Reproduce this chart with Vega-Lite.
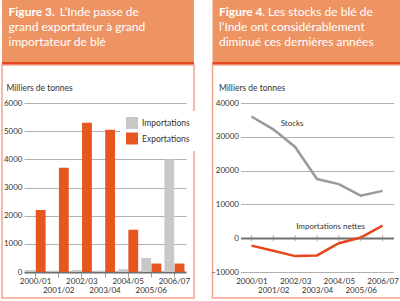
{
  "$schema": "https://vega.github.io/schema/vega-lite/v6.json",
  "padding": 0,
  "autosize": {"type": "pad"},
  "background": "white",
  "config": {"font": "Lato", "view": {"stroke": null}},
  "datasets": {
    "trade": [
      {"annee": "2000/01", "serie": "Importations", "valeur": 70},
      {"annee": "2000/01", "serie": "Exportations", "valeur": 2200},
      {"annee": "2001/02", "serie": "Importations", "valeur": 50},
      {"annee": "2001/02", "serie": "Exportations", "valeur": 3700},
      {"annee": "2002/03", "serie": "Importations", "valeur": 70},
      {"annee": "2002/03", "serie": "Exportations", "valeur": 5300},
      {"annee": "2003/04", "serie": "Importations", "valeur": 50},
      {"annee": "2003/04", "serie": "Exportations", "valeur": 5050},
      {"annee": "2004/05", "serie": "Importations", "valeur": 100},
      {"annee": "2004/05", "serie": "Exportations", "valeur": 1500},
      {"annee": "2005/06", "serie": "Importations", "valeur": 500},
      {"annee": "2005/06", "serie": "Exportations", "valeur": 300},
      {"annee": "2006/07", "serie": "Importations", "valeur": 4000},
      {"annee": "2006/07", "serie": "Exportations", "valeur": 300}
    ],
    "stocks": [
      {"annee": "2000/01", "serie": "Stocks", "valeur": 36000},
      {"annee": "2001/02", "serie": "Stocks", "valeur": 32200},
      {"annee": "2002/03", "serie": "Stocks", "valeur": 27000},
      {"annee": "2003/04", "serie": "Stocks", "valeur": 17500},
      {"annee": "2004/05", "serie": "Stocks", "valeur": 16000},
      {"annee": "2005/06", "serie": "Stocks", "valeur": 12600},
      {"annee": "2006/07", "serie": "Stocks", "valeur": 14000},
      {"annee": "2000/01", "serie": "Importations nettes", "valeur": -2200},
      {"annee": "2001/02", "serie": "Importations nettes", "valeur": -3700},
      {"annee": "2002/03", "serie": "Importations nettes", "valeur": -5300},
      {"annee": "2003/04", "serie": "Importations nettes", "valeur": -5100},
      {"annee": "2004/05", "serie": "Importations nettes", "valeur": -1500},
      {"annee": "2005/06", "serie": "Importations nettes", "valeur": 200},
      {"annee": "2006/07", "serie": "Importations nettes", "valeur": 3700}
    ]
  },
  "resolve": {"scale": {"color": "independent"}, "legend": {"color": "independent"}},
  "spacing": 13.5,
  "hconcat": [
    {
      "bounds": "flush",
      "spacing": 0,
      "vconcat": [
        {
          "width": 192,
          "height": 65,
          "view": {"fill": "#EE9463", "stroke": null},
          "data": {"values": [{}]},
          "layer": [
            {"mark": {"type": "rule", "color": "#E4471D", "strokeWidth": 3},
             "encoding": {"y": {"datum": 63.5, "type": "quantitative", "scale": {"domain": [0, 65], "reverse": true, "nice": false, "zero": false}, "axis": null}}},
            {"mark": {"type": "text", "text": "Figure 3.", "fontWeight": "bold", "align": "left", "baseline": "alphabetic", "color": "white", "fontSize": 12},
             "encoding": {"x": {"datum": 6.5, "type": "quantitative", "scale": {"domain": [0, 192], "nice": false, "zero": false}, "axis": null},
                          "y": {"datum": 15.7, "type": "quantitative", "scale": {"domain": [0, 65], "reverse": true, "nice": false, "zero": false}, "axis": null}}},
            {"mark": {"type": "text", "text": "L’Inde passe de", "align": "left", "baseline": "alphabetic", "color": "white", "fontSize": 12},
             "encoding": {"x": {"datum": 57.7, "type": "quantitative", "scale": {"domain": [0, 192], "nice": false, "zero": false}, "axis": null},
                          "y": {"datum": 15.7, "type": "quantitative", "scale": {"domain": [0, 65], "reverse": true, "nice": false, "zero": false}, "axis": null}}},
            {"mark": {"type": "text", "text": "grand exportateur à grand", "align": "left", "baseline": "alphabetic", "color": "white", "fontSize": 12},
             "encoding": {"x": {"datum": 6.5, "type": "quantitative", "scale": {"domain": [0, 192], "nice": false, "zero": false}, "axis": null},
                          "y": {"datum": 30.9, "type": "quantitative", "scale": {"domain": [0, 65], "reverse": true, "nice": false, "zero": false}, "axis": null}}},
            {"mark": {"type": "text", "text": "importateur de blé", "align": "left", "baseline": "alphabetic", "color": "white", "fontSize": 12},
             "encoding": {"x": {"datum": 6.5, "type": "quantitative", "scale": {"domain": [0, 192], "nice": false, "zero": false}, "axis": null},
                          "y": {"datum": 46.1, "type": "quantitative", "scale": {"domain": [0, 65], "reverse": true, "nice": false, "zero": false}, "axis": null}}}
          ]
        },
        {
          "width": 192,
          "height": 233,
          "view": {"fill": "white", "stroke": "#F2A48D", "strokeWidth": 1.5},
          "data": {"name": "trade"},
          "mark": {"type": "bar"},
          "encoding": {
            "x": {"field": "annee", "type": "nominal", "title": null,
                  "scale": {"range": [22, 184], "paddingInner": 0, "paddingOuter": 0},
                  "axis": {"orient": "bottom", "offset": -26, "domain": true, "domainColor": "#707070", "domainWidth": 2,
                           "ticks": true, "tickSize": 5, "tickColor": "#888888", "tickWidth": 0.8,
                           "labelPadding": 0, "labelFontSize": 8, "labelColor": "#333333", "labelAngle": 0,
                           "labelBaseline": "top", "labelLineHeight": 9, "labelOverlap": false, "labelBound": false,
                           "labelExpr": "indexof(['2001/02','2003/04','2005/06'], datum.value) >= 0 ? ['', datum.label] : datum.label"}},
            "xOffset": {"field": "serie", "type": "nominal", "sort": ["Importations", "Exportations"],
                        "scale": {"paddingInner": 0.04, "paddingOuter": 0.15}},
            "y": {"field": "valeur", "type": "quantitative",
                  "scale": {"domain": [0, 6000], "range": [207, 38], "nice": false},
                  "axis": {"orient": "left", "offset": -22, "domain": false, "ticks": false, "labelPadding": 2, "format": "d",
                           "labelFontSize": 8, "labelColor": "#333333", "values": [0, 1000, 2000, 3000, 4000, 5000, 6000],
                           "grid": true, "gridColor": "#B0B0B0", "gridWidth": 1,
                           "title": "Milliers de tonnes", "titleAngle": 0, "titleX": -18, "titleY": 22, "titleAlign": "left",
                           "titleBaseline": "middle", "titleFontSize": 8.5, "titleFontWeight": "normal", "titleColor": "#333333"}},
            "color": {"field": "serie", "type": "nominal",
                      "scale": {"domain": ["Importations", "Exportations"], "range": ["#C8C8C8", "#E8561F"]},
                      "legend": {"orient": "none", "legendX": 118, "legendY": 111, "title": null, "symbolType": "square",
                                 "symbolSize": 144, "symbolStrokeWidth": 0, "labelFontSize": 8.5, "labelColor": "#333333",
                                 "fillColor": "white", "padding": 6, "rowPadding": 3.5, "labelOffset": 4}}
          }
        }
      ]
    },
    {
      "bounds": "flush",
      "spacing": 0,
      "vconcat": [
        {
          "width": 193,
          "height": 65,
          "view": {"fill": "#EE9463", "stroke": null},
          "data": {"values": [{}]},
          "layer": [
            {"mark": {"type": "rule", "color": "#E4471D", "strokeWidth": 3},
             "encoding": {"y": {"datum": 63.5, "type": "quantitative", "scale": {"domain": [0, 65], "reverse": true, "nice": false, "zero": false}, "axis": null}}},
            {"mark": {"type": "text", "text": "Figure 4", "fontWeight": "bold", "align": "left", "baseline": "alphabetic", "color": "white", "fontSize": 12},
             "encoding": {"x": {"datum": 6.5, "type": "quantitative", "scale": {"domain": [0, 193], "nice": false, "zero": false}, "axis": null},
                          "y": {"datum": 15.7, "type": "quantitative", "scale": {"domain": [0, 65], "reverse": true, "nice": false, "zero": false}, "axis": null}}},
            {"mark": {"type": "text", "text": ". Les stocks de blé de", "align": "left", "baseline": "alphabetic", "color": "white", "fontSize": 12},
             "encoding": {"x": {"datum": 49.5, "type": "quantitative", "scale": {"domain": [0, 193], "nice": false, "zero": false}, "axis": null},
                          "y": {"datum": 15.7, "type": "quantitative", "scale": {"domain": [0, 65], "reverse": true, "nice": false, "zero": false}, "axis": null}}},
            {"mark": {"type": "text", "text": "l’Inde ont considérablement", "align": "left", "baseline": "alphabetic", "color": "white", "fontSize": 12},
             "encoding": {"x": {"datum": 6.5, "type": "quantitative", "scale": {"domain": [0, 193], "nice": false, "zero": false}, "axis": null},
                          "y": {"datum": 30.9, "type": "quantitative", "scale": {"domain": [0, 65], "reverse": true, "nice": false, "zero": false}, "axis": null}}},
            {"mark": {"type": "text", "text": "diminué ces dernières années", "align": "left", "baseline": "alphabetic", "color": "white", "fontSize": 12},
             "encoding": {"x": {"datum": 6.5, "type": "quantitative", "scale": {"domain": [0, 193], "nice": false, "zero": false}, "axis": null},
                          "y": {"datum": 46.1, "type": "quantitative", "scale": {"domain": [0, 65], "reverse": true, "nice": false, "zero": false}, "axis": null}}}
          ]
        },
        {
          "width": 190,
          "height": 233,
          "view": {"fill": "white", "stroke": "#F2A48D", "strokeWidth": 1.5},
          "data": {"name": "stocks"},
          "encoding": {
            "x": {"field": "annee", "type": "ordinal", "title": null,
                  "scale": {"type": "point", "range": [28, 181], "padding": 0.5},
                  "axis": {"orient": "bottom", "offset": -21, "domain": false, "ticks": false,
                           "labelPadding": 0, "labelFontSize": 8, "labelColor": "#333333", "labelAngle": 0,
                           "labelBaseline": "top", "labelLineHeight": 9, "labelOverlap": false, "labelBound": false,
                           "labelExpr": "indexof(['2001/02','2003/04','2005/06'], datum.value) >= 0 ? ['', datum.label] : datum.label"}}
          },
          "layer": [
            {
              "mark": {"type": "line", "strokeWidth": 2.5},
              "encoding": {
                "y": {"field": "valeur", "type": "quantitative",
                      "scale": {"domain": [-10000, 40000], "range": [207, 38], "nice": false, "zero": false},
                      "axis": {"orient": "left", "offset": -28, "domain": false, "ticks": false, "labelPadding": 2, "format": "d",
                               "labelFontSize": 8, "labelColor": "#333333",
                               "values": [-10000, -5000, 0, 5000, 10000, 15000, 20000, 25000, 30000, 35000, 40000],
                               "grid": true,
                               "gridColor": {"condition": {"test": "datum.value === 0", "value": "#707070"}, "value": "#B0B0B0"},
                               "gridWidth": {"condition": {"test": "datum.value === 0", "value": 2}, "value": 1},
                               "title": "Milliers de tonnes", "titleAngle": 0, "titleX": -22, "titleY": 22, "titleAlign": "left",
                               "titleBaseline": "middle", "titleFontSize": 8.5, "titleFontWeight": "normal", "titleColor": "#333333"}},
                "color": {"field": "serie", "type": "nominal",
                          "scale": {"domain": ["Stocks", "Importations nettes"], "range": ["#9A9A9A", "#E8461A"]},
                          "legend": null}
              }
            },
            {
              "transform": [{"filter": "datum.serie === 'Stocks'"}],
              "mark": {"type": "tick", "orient": "vertical", "size": 6, "thickness": 1, "color": "#888888"},
              "encoding": {"y": {"datum": 0, "type": "quantitative"}}
            },
            {
              "data": {"values": [{}]},
              "mark": {"type": "text", "text": "Stocks", "align": "center", "baseline": "middle", "fontSize": 8, "color": "#333333", "dx": -3},
              "encoding": {"x": {"datum": "2002/03", "type": "ordinal"}, "y": {"datum": 33700, "type": "quantitative"}}
            },
            {
              "data": {"values": [{}]},
              "mark": {"type": "text", "text": "Importations nettes", "align": "left", "baseline": "middle", "fontSize": 8, "color": "#333333", "dx": 1},
              "encoding": {"x": {"datum": "2002/03", "type": "ordinal"}, "y": {"datum": 3300, "type": "quantitative"}}
            }
          ]
        }
      ]
    }
  ]
}
